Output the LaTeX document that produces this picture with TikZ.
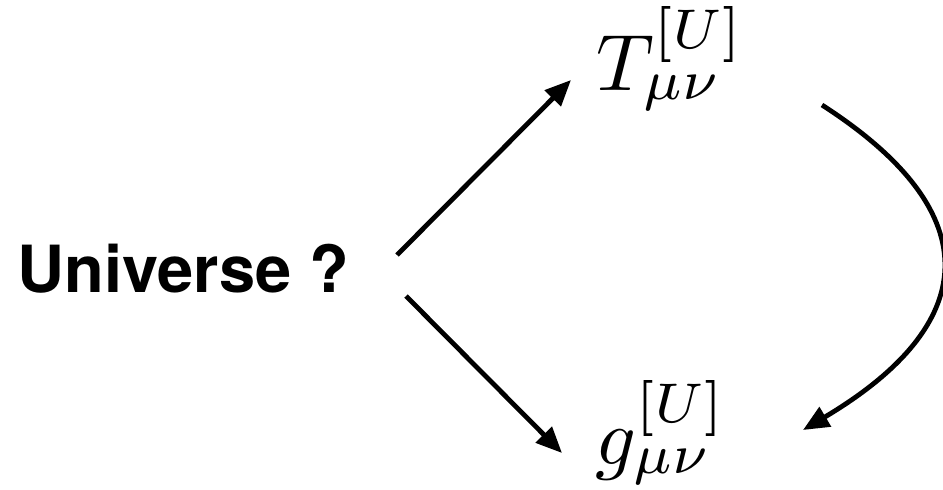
\documentclass[tikz,border=0pt]{standalone}
\usepackage{fontspec}
\newfontfamily\headfont{TeX Gyre Heros}
\usetikzlibrary{arrows.meta}

\tikzset{
  label text/.style={inner sep=0pt, anchor=base west},
  math term/.style={label text, scale=8},
  flow/.style={line width=4.8pt, -{Triangle[length=26pt,width=22pt]}},
}

\begin{document}
\begin{tikzpicture}[x=1pt, y=-1pt]
  \useasboundingbox (0,0) rectangle (943,490);

  % the three terms
  \node[label text] (uni) at (17,292)
    {\headfont\bfseries\fontsize{65}{78}\selectfont Universe ?};
  \node[math term] (tmn) at (595,90) {$T^{[U]}_{\mu\nu}$};
  \node[math term] (gmn) at (594,464) {$g^{[U]}_{\mu\nu}$};

  % connector end points next to the terms
  \coordinate (uniTop) at (397,255);
  \coordinate (uniBot) at (406,296);
  \coordinate (tmnIn)  at (571,80);
  \coordinate (gmnIn)  at (562,453);
  \coordinate (tmnOut) at (822,105);
  \coordinate (gmnOut) at (803,430);

  \draw[flow] (uniTop) -- (tmnIn);
  \draw[flow] (uniBot) -- (gmnIn);
  \draw[flow] (tmnOut) .. controls (993,215) and (978,326) .. (gmnOut);
\end{tikzpicture}
\end{document}
